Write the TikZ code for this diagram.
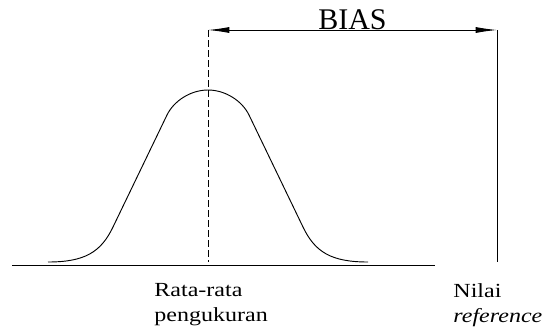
\documentclass[tikz,border=0pt]{standalone}
\usepackage{fontspec}
\setmainfont{Liberation Serif}
\newfontfamily\lblfont{Liberation Serif}[FakeStretch=1.2]
\usetikzlibrary{arrows.meta, positioning}

\begin{document}
\begin{tikzpicture}[x=0.75pt, y=-0.75pt, line width=0.7pt,
		biasarrow/.style={{Latex[length=16pt, width=4.5pt]}-{Latex[length=16pt, width=4.5pt]}},
		meanline/.style={dash pattern=on 5pt off 2.5pt},
		lbl/.style={font=\lblfont\fontsize{15pt}{18.75pt}\selectfont, align=left, inner sep=0pt}]
		
		\useasboundingbox (0,0) rectangle (550,333);
		
		% reference points
		\coordinate (MeanTop) at (208,30);
		\coordinate (MeanBase) at (208,262);
		\coordinate (RefTop) at (497,30);
		\coordinate (RefBase) at (497,262);
		\coordinate (AxisL) at (12,265);
		\coordinate (AxisR) at (435,265);
		
		% axis and distribution
		\draw (AxisL) -- (AxisR);
		\draw (48,262) .. controls (85,262) and (101,252) .. (113,227)
			-- (167,115) .. controls (173.5,101.5) and (190,90) .. (208,90)
			.. controls (226,90) and (242.5,101.5) .. (249,115)
			-- (303,227) .. controls (315,252) and (331,262) .. (368,262);
		
		\draw[meanline] (MeanTop) -- (MeanBase);
		\draw (RefTop) -- (RefBase);
		\draw[biasarrow] (MeanTop) -- (RefTop);
		
		\node[anchor=base, inner sep=0pt, font=\fontsize{22.5pt}{27pt}\selectfont] (Bias) at (352.5,29.5) {BIAS};
		
		\node[lbl, anchor=north west] (MeanLbl) at (154,283) {Rata-rata\\pengukuran};
		\node[lbl, anchor=north west] (RefLbl) at (453,283) {Nilai\\\textit{reference}};
		
	\end{tikzpicture}
\end{document}
